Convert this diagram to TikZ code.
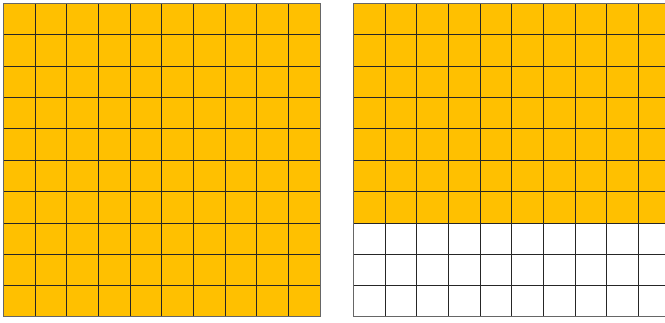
\documentclass[tikz,border=0pt]{standalone}
\definecolor{gold}{HTML}{FFC000}
\tikzset{gridline/.style={draw=black!85,line width=0.8pt},
  outer/.style={draw=black!60,line width=1pt}}
\begin{document}
\begin{tikzpicture}[x=1pt,y=-1pt]
\useasboundingbox (0,0) rectangle (665,323);
\clip (0,0) rectangle (665,323);
% left grid
\fill[gold] (3.5,3.5) rectangle (320,317);
\foreach \i in {1,...,9} {
  \draw[gridline] ({3.5+\i*31.65},3.5) -- ({3.5+\i*31.65},317);
  \draw[gridline] (3.5,{3.5+\i*31.35}) -- (320,{3.5+\i*31.35});
}
\draw[outer] (3.5,3.5) rectangle (320,317);
% right grid
\fill[gold] (353.5,3.5) rectangle (670,223);
\fill[white] (353.5,223) rectangle (670,317);
\foreach \i in {1,...,9} {
  \draw[gridline] ({353.5+\i*31.65},3.5) -- ({353.5+\i*31.65},317);
  \draw[gridline] (353.5,{3.5+\i*31.35}) -- (670,{3.5+\i*31.35});
}
\draw[outer] (353.5,3.5) rectangle (670,317);
\end{tikzpicture}
\end{document}
